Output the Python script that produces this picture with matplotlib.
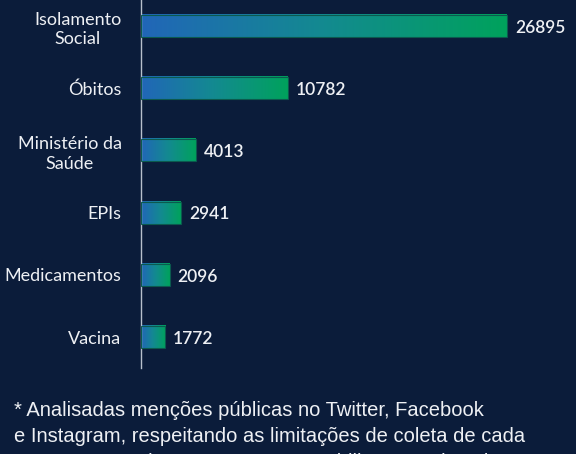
import matplotlib
matplotlib.use("Agg")
import matplotlib.pyplot as plt
import numpy as np
from matplotlib.colors import LinearSegmentedColormap

categories = ["Isolamento\nSocial", "Óbitos", "Ministério da\nSaúde", "EPIs", "Medicamentos", "Vacina"]
values = [26895, 10782, 4013, 2941, 2096, 1772]
footnote_lines = ["* Analisadas menções públicas no Twitter, Facebook",
                  "e Instagram, respeitando as limitações de coleta de cada",
                  "API. Para o Twitter, a amostra contabiliza 10% da coleta"]

BG = "#0b1c3a"
TXT = "#eef0f4"
cmap = LinearSegmentedColormap.from_list("g", ["#2166b8", "#138a90", "#00a25c"])

W, H = 576, 454
fig = plt.figure(figsize=(W / 100, H / 100), dpi=100, facecolor=BG)
ax = fig.add_axes([141 / W, 86 / H, 408 / W, 368 / H], facecolor=BG)

ypos = np.arange(len(categories))
bars = ax.barh(ypos, values, height=0.354, color="none", edgecolor="#0b5a4e", linewidth=0.8, zorder=3)
grad = np.linspace(0, 1, 256).reshape(1, -1)
for b in bars:
    x0, y0 = b.get_x(), b.get_y()
    ax.imshow(grad, cmap=cmap, aspect="auto", extent=[x0, x0 + b.get_width(), y0 + b.get_height(), y0],
              zorder=2, interpolation="bicubic")
    ax.text(b.get_width() + 8 * 73.5, y0 + b.get_height() / 2 + 0.03, f"{int(b.get_width())}",
            color=TXT, fontsize=12.5, fontweight="semibold", family="Lato", va="center", ha="left")

ax.set_xlim(0, 30000)
ax.set_ylim(5.498, -0.418)
ax.set_yticks(ypos)
ax.set_yticklabels(categories, color=TXT, fontsize=13, family="Lato", multialignment="center",
                   linespacing=1.3)
ax.tick_params(axis="y", length=0, pad=14)
ax.set_xticks([])
for s in ["top", "right", "bottom"]:
    ax.spines[s].set_visible(False)
ax.spines["left"].set_color("#b8c0cc")
ax.spines["left"].set_linewidth(1.0)

for i, line in enumerate(footnote_lines):
    fig.text(14 / W, 1 - (416 + 26 * i) / H, line, color=TXT, fontsize=14.5, family="Liberation Sans",
             va="baseline", ha="left")

fig.savefig("out.png", dpi=100, facecolor=BG)
